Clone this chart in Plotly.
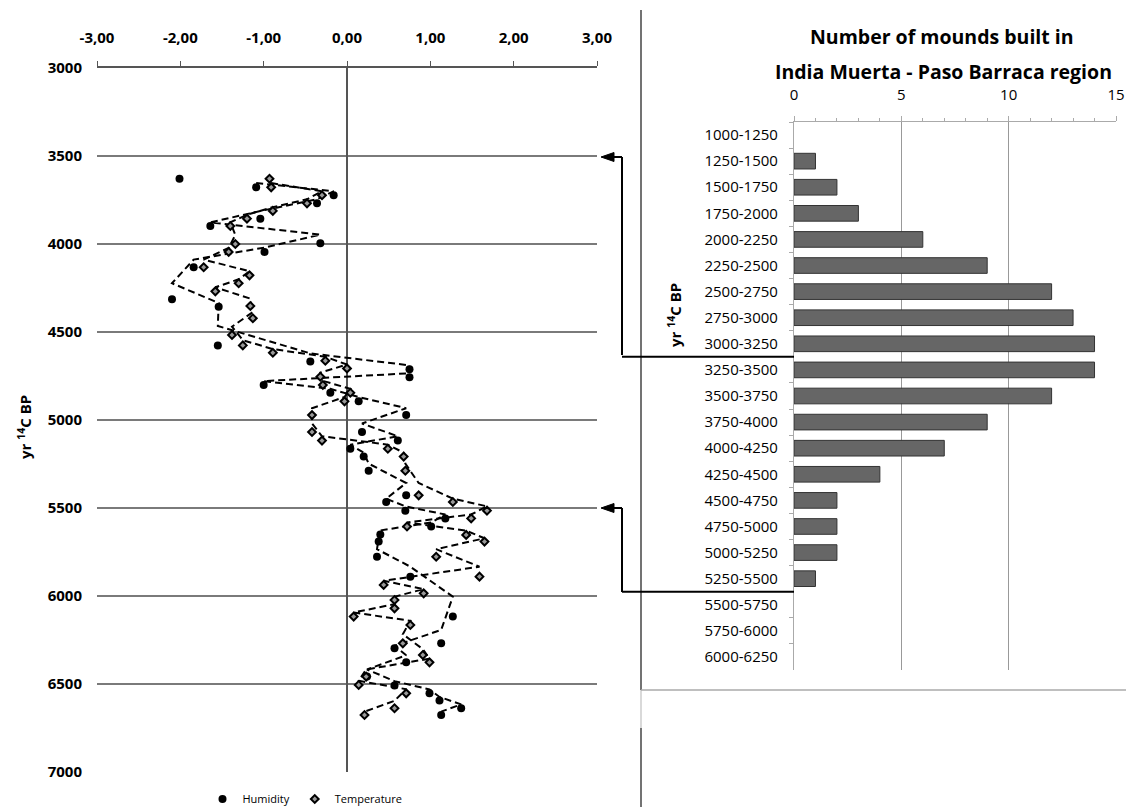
import numpy as np
import plotly.graph_objects as go

# ---------------- data ----------------
hum_age = [3629, 3678, 3723, 3769, 3856, 3898, 3996, 4045, 4132, 4314, 4356, 4576,
           4667, 4712, 4757, 4801, 4845, 4894, 4972, 5068, 5117, 5163, 5208, 5288,
           5428, 5466, 5515, 5559, 5605, 5650, 5691, 5777, 5890, 6117, 6269, 6297,
           6377, 6458, 6509, 6553, 6594, 6638, 6676]
hum_val = [-2.01, -1.09, -0.16, -0.36, -1.04, -1.64, -0.32, -0.99, -1.84, -2.10, -1.54, -1.55,
           -0.44, 0.75, 0.75, -1.00, -0.20, 0.14, 0.71, 0.18, 0.61, 0.04, 0.20, 0.26,
           0.71, 0.47, 0.70, 1.18, 1.01, 0.40, 0.38, 0.36, 0.76, 1.27, 1.13, 0.57,
           0.71, 0.24, 0.57, 0.99, 1.11, 1.37, 1.13]

tmp_age = [3629, 3678, 3723, 3769, 3812, 3856, 3898, 4000, 4045, 4132, 4178, 4223,
           4269, 4352, 4422, 4517, 4576, 4618, 4663, 4707, 4754, 4801, 4845, 4894,
           4972, 5068, 5117, 5163, 5208, 5288, 5428, 5466, 5515, 5559, 5605, 5653,
           5691, 5777, 5890, 5937, 5985, 6023, 6070, 6117, 6165, 6269, 6335, 6377,
           6458, 6506, 6553, 6638, 6676]
tmp_val = [-0.93, -0.91, -0.30, -0.48, -0.89, -1.20, -1.40, -1.34, -1.42, -1.72, -1.17, -1.30,
           -1.58, -1.16, -1.13, -1.38, -1.25, -0.89, -0.26, 0.00, -0.32, -0.29, 0.04, -0.03,
           -0.42, -0.42, -0.30, 0.49, 0.68, 0.70, 0.86, 1.27, 1.68, 1.49, 0.72, 1.43,
           1.65, 1.07, 1.59, 0.44, 0.92, 0.57, 0.57, 0.08, 0.76, 0.67, 0.91, 0.99,
           0.23, 0.14, 0.71, 0.57, 0.21]

x_ticks = [-3, -2, -1, 0, 1, 2, 3]
x_ticktext = ["-3,00", "-2,00", "-1,00", "0,00", "1,00", "2,00", "3,00"]
y_ticks = [3000, 3500, 4000, 4500, 5000, 5500, 6000, 6500, 7000]

periods = ["1000-1250", "1250-1500", "1500-1750", "1750-2000", "2000-2250", "2250-2500",
           "2500-2750", "2750-3000", "3000-3250", "3250-3500", "3500-3750", "3750-4000",
           "4000-4250", "4250-4500", "4500-4750", "4750-5000", "5000-5250", "5250-5500",
           "5500-5750", "5750-6000", "6000-6250"]
mounds = [0, 1, 2, 3, 6, 9, 12, 13, 14, 14, 12, 9, 7, 4, 2, 2, 2, 1, 0, 0, 0]

# ---------------- figure ----------------
W, H = 1134, 807
OFF = 8  # page body margin
FONT = "Open Sans"


def px(x):
    return (x - OFF) / W


def py(y):
    return 1 - (y - OFF) / H


fig = go.Figure()

# moving-average style dashed trend lines (period 2)
for ages, vals in ((hum_age, hum_val), (tmp_age, tmp_val)):
    a = np.array(ages, dtype=float)
    v = np.array(vals, dtype=float)
    fig.add_trace(go.Scatter(x=v[1:], y=(a[1:] + a[:-1]) / 2, mode="lines",
                             line=dict(color="black", width=2, dash="7px,4px"),
                             showlegend=False, hoverinfo="skip", xaxis="x", yaxis="y"))

fig.add_trace(go.Scatter(x=hum_val, y=hum_age, mode="markers", name="Humidity",
                         marker=dict(symbol="circle", size=8, color="black"),
                         xaxis="x", yaxis="y"))
fig.add_trace(go.Scatter(x=tmp_val, y=tmp_age, mode="markers", name="Temperature",
                         marker=dict(symbol="diamond", size=6, color="#999999",
                                     line=dict(color="black", width=2)),
                         xaxis="x", yaxis="y"))

fig.add_trace(go.Bar(x=mounds, y=periods, orientation="h", xaxis="x2", yaxis="y2",
                     marker=dict(color="#666666",
                                 line=dict(color="#333333",
                                           width=[1 if m > 0 else 0 for m in mounds])),
                     showlegend=False))

fig.update_layout(
    width=W, height=H, autosize=False,
    margin=dict(l=0, r=0, t=0, b=0, autoexpand=False),
    paper_bgcolor="white", plot_bgcolor="white",
    font=dict(family=FONT, color="black"),
    bargap=0.4,
    xaxis=dict(domain=[px(97), px(597)], range=[-3, 3], side="top", automargin=False,
               tickvals=x_ticks, ticktext=x_ticktext,
               tickfont=dict(size=15, family=FONT, weight="bold"),
               ticks="outside", ticklen=5, tickcolor="#555", tickwidth=1.2,
               ticklabelstandoff=12,
               showline=True, linecolor="#555", linewidth=1.5,
               showgrid=False, zeroline=True, zerolinecolor="#555", zerolinewidth=1.5,
               anchor="y"),
    yaxis=dict(domain=[py(772), py(68)], range=[7000, 3000], automargin=False,
               tickvals=y_ticks, tickfont=dict(size=15, family=FONT, weight="bold"),
               ticks="", ticklabelstandoff=14,
               showgrid=True, gridcolor="#7a7a7a", gridwidth=1.5,
               showline=False, zeroline=False, anchor="x"),
    xaxis2=dict(domain=[px(794), px(1116)], range=[0, 15], side="top", automargin=False,
                tickvals=[0, 5, 10, 15], tickfont=dict(size=15, family=FONT),
                ticks="outside", ticklen=5, tickcolor="#aaa", ticklabelstandoff=10,
                minor=dict(ticks="outside", dtick=1, ticklen=3, tickcolor="#aaa", showgrid=False),
                showline=True, linecolor="#aaa", linewidth=1.2,
                showgrid=True, gridcolor="#999", gridwidth=1.2, zeroline=False,
                anchor="y2"),
    yaxis2=dict(domain=[py(670), py(122)], type="category", categoryorder="array",
                categoryarray=periods, autorange="reversed", automargin=False,
                tickfont=dict(size=15, family=FONT),
                ticks="outside", tickson="boundaries", ticklen=4, tickcolor="#aaa",
                ticklabelstandoff=12,
                showline=True, linecolor="#aaa", linewidth=1.2, showgrid=False,
                zeroline=False, anchor="x2"),
    legend=dict(orientation="h", x=px(305), xanchor="center", y=py(799), yanchor="middle",
                font=dict(size=11, family=FONT), itemwidth=30, bgcolor="rgba(0,0,0,0)",
                tracegroupgap=0),
    showlegend=True,
)

annotations = [
    dict(text="<b>yr <sup>14</sup>C BP</b>", x=px(24), y=py(427), xref="paper", yref="paper",
         xanchor="center", yanchor="middle",
         textangle=-90, showarrow=False, font=dict(size=15, family=FONT)),
    dict(text="<b>yr <sup>14</sup>C BP</b>", x=px(675), y=py(315), xref="paper", yref="paper",
         xanchor="center", yanchor="middle",
         textangle=-90, showarrow=False, font=dict(size=15, family=FONT)),
    dict(text="<b>Number of mounds built in</b>", x=px(942), y=py(37), xref="paper", yref="paper",
         xanchor="center", yanchor="middle",
         showarrow=False, font=dict(size=19.5, family=FONT)),
    dict(text="<b>India Muerta - Paso Barraca region</b>", x=px(943), y=py(71), xref="paper",
         yref="paper", xanchor="center", yanchor="middle",
         showarrow=False, font=dict(size=19.5, family=FONT)),
]
fig.update_layout(annotations=annotations)


def tri(tipx, tipy):
    return (f"M {px(tipx)} {py(tipy)} L {px(tipx + 13)} {py(tipy - 4.5)} "
            f"L {px(tipx + 13)} {py(tipy + 4.5)} Z")


shapes = [
    # separator
    dict(type="line", xref="paper", yref="paper", x0=px(641), x1=px(641), y0=py(10), y1=py(690),
         line=dict(color="#444", width=1.5)),
    dict(type="line", xref="paper", yref="paper", x0=px(641), x1=px(641), y0=py(690), y1=py(728),
         line=dict(color="#ccc", width=1.5)),
    dict(type="line", xref="paper", yref="paper", x0=px(641), x1=px(641), y0=py(728), y1=py(815),
         line=dict(color="#444", width=1.5)),
    dict(type="line", xref="paper", yref="paper", x0=px(641), x1=px(1142), y0=py(690), y1=py(690),
         line=dict(color="#aaa", width=1.5)),
    # arrow 1 connector
    dict(type="line", xref="paper", yref="y2", x0=px(622), x1=px(794), y0=8.5, y1=8.5,
         line=dict(color="black", width=2)),
    dict(type="line", xref="paper", yref="paper", x0=px(622), x1=px(622), y0=py(157), y1=py(355),
         line=dict(color="black", width=2)),
    dict(type="line", xref="paper", yref="paper", x0=px(610), x1=px(622), y0=py(157), y1=py(157),
         line=dict(color="black", width=2)),
    dict(type="path", xref="paper", yref="paper", path=tri(601, 157),
         fillcolor="black", line=dict(color="black", width=1)),
    # arrow 2 connector
    dict(type="line", xref="paper", yref="y2", x0=px(622), x1=px(794), y0=17.5, y1=17.5,
         line=dict(color="black", width=2)),
    dict(type="line", xref="paper", yref="paper", x0=px(622), x1=px(622), y0=py(508), y1=py(592),
         line=dict(color="black", width=2)),
    dict(type="line", xref="paper", yref="paper", x0=px(610), x1=px(622), y0=py(508), y1=py(508),
         line=dict(color="black", width=2)),
    dict(type="path", xref="paper", yref="paper", path=tri(601, 508),
         fillcolor="black", line=dict(color="black", width=1)),
]
fig.update_layout(shapes=shapes)

fig.write_html("out.html")
